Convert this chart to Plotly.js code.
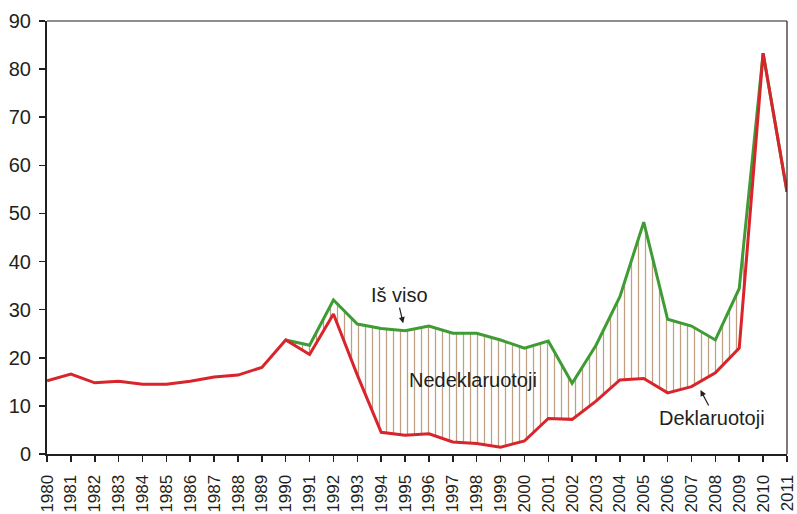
<!DOCTYPE html>
<html>
<head>
<meta charset="utf-8">
<script src="https://cdn.plot.ly/plotly-3.0.1.min.js"></script>
<style>html,body{margin:0;padding:0;background:#fff;}#chart{width:797px;height:514px;}</style>
</head>
<body>
<div id="chart"></div>
<script>
var years = [1980,1981,1982,1983,1984,1985,1986,1987,1988,1989,1990,1991,1992,1993,1994,1995,1996,1997,1998,1999,2000,2001,2002,2003,2004,2005,2006,2007,2008,2009,2010,2011];
var declared = [15.2,16.6,14.8,15.1,14.5,14.5,15.1,16.0,16.4,18.0,23.7,20.7,29.1,16.4,4.5,3.9,4.2,2.5,2.2,1.4,2.7,7.4,7.2,11.0,15.4,15.7,12.7,14.0,16.9,22.0,83.3,54.5];
var totalYears = [1990,1991,1992,1993,1994,1995,1996,1997,1998,1999,2000,2001,2002,2003,2004,2005,2006,2007,2008,2009,2010,2011];
var total = [23.7,22.6,32.0,27.0,26.1,25.6,26.6,25.1,25.1,23.7,22.0,23.5,14.7,22.6,32.7,48.2,28.0,26.6,23.7,34.4,83.3,54.5];
var labelTotal = "Iš viso";
var labelUndeclared = "Nedeklaruotoji";
var labelDeclared = "Deklaruotoji";

var startIdx = years.indexOf(totalYears[0]);
var baseYears = years.slice(startIdx);
var baseVals = declared.slice(startIdx);

var green = "#3f9c35";
var red = "#d9242c";

var traces = [
  {x: baseYears, y: baseVals, type: "scatter", mode: "lines", line: {width: 0, color: red}, hoverinfo: "skip", showlegend: false},
  {x: totalYears, y: total, type: "scatter", mode: "lines", fill: "tonexty",
   fillcolor: "rgba(255,255,255,0)",
   fillpattern: {shape: "|", fgcolor: "#bf9f83", bgcolor: "rgba(255,255,255,0)", size: 7, solidity: 0.18},
   line: {color: green, width: 3}, name: labelTotal, showlegend: false},
  {x: years, y: declared, type: "scatter", mode: "lines", line: {color: red, width: 3}, name: labelDeclared, showlegend: false}
];

var fnt = {family: "Liberation Sans, Arial, sans-serif", size: 20, color: "#231f20"};

var layout = {
  width: 797, height: 514,
  margin: {l: 47, r: 10, t: 21, b: 60, pad: 0},
  paper_bgcolor: "#fff", plot_bgcolor: "#fff",
  font: fnt,
  showlegend: false,
  xaxis: {
    range: [1979.999, 2011.001], tickmode: "array", tickvals: years, ticktext: years.map(String),
    tickangle: -90, ticks: "outside", ticklen: 6, tickwidth: 1.5, tickcolor: "#231f20",
    showline: true, linecolor: "#231f20", linewidth: 2, showgrid: false, zeroline: false,
    tickfont: {family: fnt.family, size: 17, color: "#231f20"}, ticklabelstandoff: 6,
    ticklabeloverflow: "allow", automargin: false
  },
  yaxis: {
    range: [0, 90], dtick: 10, tick0: 0, ticks: "outside", ticklen: 6, tickwidth: 1.5, tickcolor: "#231f20",
    showline: true, linecolor: "#231f20", linewidth: 2, showgrid: false, zeroline: false,
    tickfont: fnt, ticklabelstandoff: 4
  },
  shapes: [
    {type: "line", xref: "paper", yref: "paper", x0: 0, x1: 1, y0: 1, y1: 1, line: {color: "#231f20", width: 1.2}},
    {type: "line", xref: "paper", yref: "paper", x0: 1, x1: 1, y0: 0, y1: 1, line: {color: "#231f20", width: 1.2}}
  ],
  annotations: [
    {x: 1994.92, y: 27.2, xref: "x", yref: "y", text: "", showarrow: true, arrowhead: 2, arrowsize: 1, arrowwidth: 1.2, arrowcolor: "#231f20", ax: -4, ay: -17},
    {x: 1994.75, y: 33.0, xref: "x", yref: "y", text: labelTotal, showarrow: false, font: {family: fnt.family, size: 20, color: "#231f20"}},
    {x: 1997.83, y: 15.4, xref: "x", yref: "y", text: labelUndeclared, showarrow: false, font: {family: fnt.family, size: 20, color: "#231f20"}},
    {x: 2007.375, y: 13.3, xref: "x", yref: "y", text: "", showarrow: true, arrowhead: 2, arrowsize: 1, arrowwidth: 1.2, arrowcolor: "#231f20", ax: 9, ay: 17},
    {x: 2007.875, y: 7.5, xref: "x", yref: "y", text: labelDeclared, showarrow: false, font: {family: fnt.family, size: 20, color: "#231f20"}}
  ]
};

Plotly.newPlot("chart", traces, layout, {staticPlot: true, displayModeBar: false});
</script>
</body>
</html>
